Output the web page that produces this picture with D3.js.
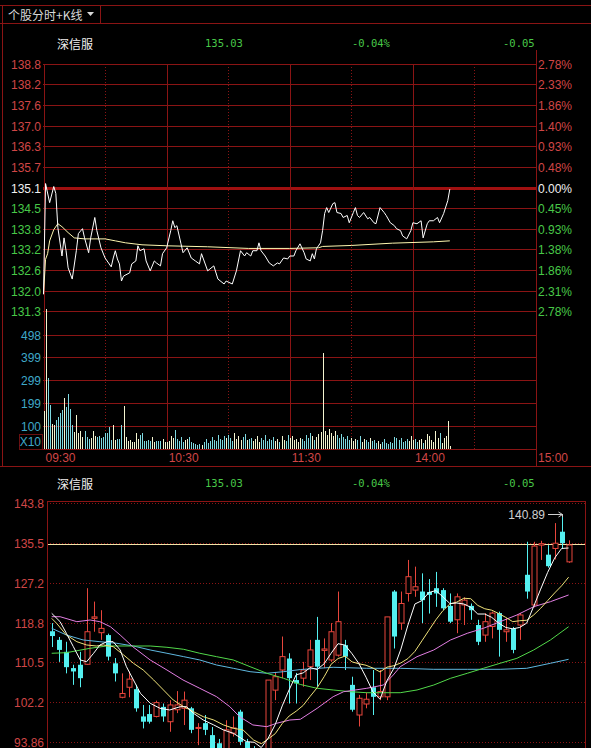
<!DOCTYPE html>
<html><head><meta charset="utf-8">
<script src="https://cdn.jsdelivr.net/npm/d3@7"></script>
<style>
html,body{margin:0;padding:0;background:#000;}
svg{display:block;}
</style></head><body>
<svg id="c" width="591" height="748"></svg>
<script>
// ---------------- DATA ----------------
const titleText = "个股分时+K线";
const stockName = "深信服";
const lastPrice = "135.03", changePct = "-0.04%", changeAmt = "-0.05";
const prevClose = 135.08;

const priceTickValues = [138.83,138.21,137.58,136.96,136.33,135.71,135.08,134.45,133.83,133.20,132.58,131.95,131.33];
const priceTickLabels = ["138.8","138.2","137.6","137.0","136.3","135.7","135.1","134.5","133.8","133.2","132.6","132.0","131.3"];
const pctTickLabels = ["2.78%","2.33%","1.86%","1.40%","0.93%","0.48%","0.00%","0.45%","0.93%","1.38%","1.86%","2.31%","2.78%"];
const volTickValues = [100,199,299,399,498];
const volTickLabels = ["100","199","299","399","498"];
const timeLabels = ["09:30","10:30","11:30","14:00","15:00"];
const timeLabelMinutes = [0,60,120,180,240];
const solidGridMinutes = [0,60,120,180,240];
const dottedGridMinutes = [30,90,150,210];

// intraday price [minute, price]
const pricePoints = [[0,131.84],[1,135.20],[3,134.62],[5,135.11],[6,134.90],[7,133.86],[9,133.00],[10,133.55],[11,133.16],[12,132.64],[14,132.30],[16,133.16],[17,133.68],[19,133.83],[20,133.55],[22,133.10],[23,133.55],[25,134.17],[26,133.77],[28,133.25],[30,132.94],[33,132.67],[34,132.94],[35,133.16],[36,132.91],[37,132.76],[38,132.24],[39,132.39],[42,132.49],[43,132.76],[45,132.85],[46,133.31],[47,133.16],[49,133.22],[50,132.85],[52,132.55],[54,132.85],[55,132.79],[57,132.70],[58,133.07],[60,133.25],[62,133.77],[63,134.07],[64,133.86],[65,133.92],[67,133.37],[68,133.10],[70,133.25],[72,132.94],[74,132.85],[76,132.76],[77,133.07],[80,132.55],[83,132.70],[85,132.30],[88,132.15],[89,132.24],[92,132.15],[94,132.55],[96,133.16],[98,133.00],[99,133.10],[101,133.00],[102,133.16],[104,133.16],[105,133.40],[106,133.16],[108,133.00],[110,132.79],[112,132.70],[114,132.79],[115,132.76],[117,132.94],[119,132.91],[120,133.00],[122,133.00],[123,133.16],[125,133.37],[127,133.10],[128,132.91],[130,132.85],[131,133.07],[132,132.91],[133,133.22],[135,133.40],[136,133.77],[137,134.29],[138,134.47],[139,134.32],[141,134.59],[142,134.62],[143,134.32],[145,134.29],[146,134.17],[148,134.23],[149,134.01],[151,134.32],[152,134.47],[153,134.23],[154,134.17],[156,134.32],[158,134.13],[159,134.17],[161,134.01],[162,133.98],[164,134.47],[166,134.32],[167,134.23],[169,134.01],[171,133.92],[172,133.83],[174,133.77],[175,133.61],[177,133.52],[179,133.77],[180,134.01],[182,133.98],[184,134.07],[185,133.55],[187,133.98],[188,134.07],[190,134.07],[192,134.17],[193,134.01],[195,134.29],[197,134.68],[198,135.03]];
// average price [minute, price]
const avgPoints = [[0,131.84],[1,132.90],[2,133.07],[3,133.46],[5,133.80],[7,133.98],[9,133.89],[12,133.71],[15,133.55],[20,133.52],[30,133.52],[35,133.46],[40,133.40],[48,133.34],[60,133.31],[80,133.28],[100,133.23],[120,133.23],[134,133.25],[136,133.29],[150,133.32],[170,133.39],[190,133.43],[198,133.46]];
// volume per minute (x10)
const volumes = [167,610,309,192,109,103,126,138,158,170,221,182,240,173,105,74,147,71,77,54,78,54,45,47,78,57,51,57,47,51,68,71,95,39,103,39,42,42,103,187,54,36,39,32,32,68,42,60,68,36,36,39,36,51,32,36,34,34,42,29,32,36,58,46,83,42,36,51,30,39,42,51,29,26,23,19,23,17,
30,45,28,36,52,40,33,60,42,38,55,47,62,48,35,70,44,58,40,52,66,38,45,50,36,42,55,30,48,38,60,33,45,40,52,36,44,30,58,40,35,62,48,55,38,45,30,50,42,36,60,48,70,55,40,52,65,75,420,80,62,85,70,55,78,60,48,66,52,45,58,40,50,36,45,40,55,32,42,38,30,46,35,40,28,34,22,30,42,26,20,32,25,54,50,38,48,30,36,42,35,57,40,45,30,38,45,28,40,65,55,38,30,80,48,68,26,50,58,122,15];
// bar direction (u = up, d = down)
const volDir = ["uu","dd","uu","ddddudddd","uuuuu","ddd","uuu","dddddddd","uu","ddd","uuuuuuuu","dddddd","uu","ddd","uuuuuu","ddddd","uu","dddddd","u","ddddddddddd","u","ddd","uuuu","dd","u","dd","uuuu","ddddddd","uu","d","uu","dd","uuuuuu","ddddd","u","d","uuuuuuuuuu","ddddddd","uuu","dd","uu","dd","u","ddd","uu","ddddddddddddd","uuu","dd","uu","d","uuuuuuu","d","uuuuu"].join("");

// K line (daily)
const kTickValues = [143.8,135.48,127.15,118.83,110.51,102.18,93.86];
const kTickLabels = ["143.8","135.5","127.2","118.8","110.5","102.2","93.86"];
const kOpen = [117.0,115.2,112.7,109.3,110.0,110.1,119.7,116.7,116.2,110.3,103.2,105.3,104.9,99.2,99.7,99.2,101.2,98.1,100.6,100.9,100.9,96.8,97.8,95.3,93.6,91.5,95.7,100.2,93.9,92.0,89.5,91.0,104.7,108.9,111.3,106.8,107.2,109.6,115.2,113.0,111.0,112.0,114.1,105.8,99.5,101.8,105.3,103.3,103.3,125.3,118.7,124.9,125.6,125.3,125.2,126.0,125.6,122.3,119.4,122.5,122.3,118.3,116.2,118.0,120.8,116.9,117.6,118.3,128.8,122.5,135.0,133.0,134.3,137.8,131.5];
const kHigh = [118.7,115.8,114.8,110.0,112.7,126.0,123.2,121.4,116.5,111.4,108.2,108.6,105.8,101.6,101.6,102.5,101.9,102.6,104.5,104.4,101.2,97.8,99.5,97.0,94.5,98.4,99.2,100.6,94.5,93.0,92.0,106.8,108.5,115.9,112.4,108.3,110.6,115.2,120.0,115.5,118.7,125.3,115.2,107.5,103.7,104.2,108.9,108.9,120.0,125.6,125.3,131.9,130.5,129.1,127.9,129.4,126.0,124.9,124.9,124.1,122.8,119.4,120.8,121.1,121.1,119.7,117.9,120.8,135.7,135.7,135.9,135.0,139.6,140.89,136.0];
const kLow = [113.7,110.6,108.2,105.8,105.3,110.0,116.9,115.2,110.9,106.5,103.0,103.2,100.2,96.7,97.7,99.0,98.1,96.0,99.9,97.4,95.7,93.2,95.3,90.5,89.5,90.8,95.0,93.2,91.0,89.0,88.0,90.5,102.6,107.2,101.9,101.9,105.4,106.8,105.4,109.3,110.6,111.7,108.9,100.2,97.1,100.9,99.5,102.6,102.6,113.4,117.3,123.2,124.2,118.7,120.7,122.1,121.4,118.7,116.6,118.3,119.4,114.1,114.8,115.5,111.7,114.8,112.4,115.2,123.8,122.0,131.9,130.3,132.0,134.3,131.3];
const kClose = [116.0,113.1,109.5,108.6,107.2,116.9,120.0,117.6,111.7,108.2,104.0,107.0,100.9,98.1,98.1,102.1,99.2,101.6,101.6,102.6,96.4,96.9,96.4,91.5,90.5,96.4,96.8,93.9,92.0,90.0,91.0,106.8,107.5,111.7,107.2,106.1,108.9,113.1,109.6,113.3,116.9,119.0,111.7,100.6,103.0,102.8,103.3,104.4,120.0,115.9,122.8,128.4,126.3,123.5,124.6,124.9,121.8,119.0,124.2,123.5,121.4,114.8,119.0,120.8,117.3,117.3,113.1,120.4,125.3,134.8,135.3,130.6,135.4,135.4,135.03];
const highMarkLabel = "140.89";
const highMarkIndex = 73;

// moving averages [index, value]
const maWhite = [[0,120.75],[1.2,119.0],[2.1,116.58],[3.1,113.78],[4.1,111.0],[5,110.64],[6,112.4],[6.9,114.13],[7.9,114.82],[8.8,114.82],[9.8,113.09],[10.7,109.6],[11.7,106.82],[12.7,104.04],[14.1,101.95],[15.5,100.9],[16.9,100.55],[18.4,101.24],[19.3,101.24],[20.3,99.86],[21.7,98.46],[23.2,97.42],[24.6,96.37],[26,95.68],[27.9,93.93],[29,93.8],[30,92.7],[31,94.7],[32,97.5],[33,101.4],[34,104.8],[35,107.9],[36,108.3],[37,109.4],[38,109.0],[39,110.2],[40,112.4],[41,114.4],[42,114.1],[43,112.3],[44,110.2],[45,107.4],[46,104.3],[47,102.8],[48,106.7],[49,109.3],[50,113.3],[51,118.3],[52,122.7],[53,123.4],[54,125.1],[55,125.5],[56,124.2],[57,122.8],[58,122.9],[59,122.7],[60,122.0],[61,120.6],[62,120.6],[63,119.9],[64,118.7],[65,117.8],[66,117.5],[67,117.8],[68,118.7],[69,122.2],[70,125.8],[71,129.3],[72,132.3],[73,134.3],[74,134.4]];
const maYellow = [[0,119.7],[0.7,118.66],[2.1,116.22],[3.6,114.82],[5,114.13],[6.4,113.92],[7.4,114.13],[8.8,113.78],[10.3,112.04],[11.7,110.31],[13.1,108.91],[14.6,106.82],[16,104.73],[17.4,102.64],[18.9,101.24],[20.3,100.19],[21.7,99.15],[23.2,98.46],[24.6,97.42],[26,96.73],[27.4,96.37],[28.9,94.28],[30,93.5],[31,94.5],[32,95.6],[33,97.7],[34,99.3],[35,100.3],[36,101.5],[37,103.4],[38,105.2],[39,107.5],[40,110.1],[41,111.3],[42,111.8],[43,110.6],[44,110.2],[45,109.9],[46,109.3],[47,108.5],[48,109.5],[49,109.8],[50,110.4],[51,111.3],[52,112.8],[53,115.0],[54,117.2],[55,119.4],[56,121.3],[57,122.7],[58,123.1],[59,123.9],[60,123.8],[61,122.4],[62,121.7],[63,121.4],[64,120.7],[65,119.9],[66,119.0],[67,119.2],[68,119.3],[69,120.4],[70,121.8],[71,123.4],[72,125.0],[73,126.5],[74,128.3]];
const maPink = [[0,120.04],[1.2,120.04],[3.6,119.0],[5.5,119.35],[6.9,119.0],[8.4,117.95],[9.8,116.22],[11.6,113.78],[14.1,111.0],[16.5,108.9],[18.8,106.82],[21.2,105.08],[23.6,103.33],[25.5,101.24],[26.9,99.15],[28.8,97.42],[30.8,97.06],[32.2,97.77],[34.1,98.46],[35.6,98.61],[38,100.9],[40.3,103.33],[41.8,104.37],[45.1,105.08],[47.5,105.77],[48.9,107.86],[49.9,109.6],[52.3,111.69],[54.7,113.09],[57.1,115.18],[59.5,116.58],[61.8,117.62],[64.2,119.0],[66.6,120.4],[69,122.13],[71.4,123.18],[74,124.58]];
const maGreen = [[0,112.4],[2.1,112.52],[5.5,113.44],[7.9,113.92],[11.7,113.92],[14.1,113.92],[16.5,113.65],[18.9,113.23],[21.2,112.4],[23.6,111.69],[26,111.0],[28.4,109.6],[30.8,108.22],[33.2,107.17],[35.6,105.88],[38,105.08],[40.3,104.73],[42.7,104.37],[45.1,104.16],[47.5,104.16],[49.9,104.16],[52.3,104.73],[54.7,105.77],[57.1,107.17],[59.5,108.22],[61.8,109.26],[64.2,110.31],[66.6,111.35],[69,113.09],[71.4,115.18],[74,117.95]];
const maBlue = [[0,117.62],[2.1,116.22],[4.5,115.18],[6.9,114.82],[9.3,114.49],[11.7,113.92],[14.1,113.09],[16.5,112.4],[18.9,111.69],[21.2,111.0],[23.6,109.95],[26,109.26],[28.4,108.55],[30.8,108.22],[33.2,108.55],[35.6,109.0],[40.3,109.47],[45.1,109.26],[49.9,109.26],[54.7,109.05],[59.5,109.05],[64.2,109.05],[68,109.26],[71.4,110.31],[74,111.14]];

// ---------------- DRAW ----------------
const RED_GRID = "#8a1414", RED_TXT = "#d04646", GRN_TXT = "#48c848", CYAN_TXT = "#3fa8c8";
const SANS = "'Liberation Sans', Arial, sans-serif";
const CJK = "'Noto Sans CJK SC', sans-serif";
const MONO = "'DejaVu Sans Mono', monospace";
const svg = d3.select("#c");
svg.append("rect").attr("width",591).attr("height",748).attr("fill","#000");

function hline(g,x1,x2,y,color,w,dash){ const l=g.append("line").attr("x1",x1).attr("x2",x2).attr("y1",y).attr("y2",y).attr("stroke",color).attr("stroke-width",w||1).attr("shape-rendering","crispEdges"); if(dash) l.attr("stroke-dasharray",dash); return l;}
function vline(g,x,y1,y2,color,w,dash){ const l=g.append("line").attr("x1",x).attr("x2",x).attr("y1",y1).attr("y2",y2).attr("stroke",color).attr("stroke-width",w||1).attr("shape-rendering","crispEdges"); if(dash) l.attr("stroke-dasharray",dash); return l;}
function txt(g,x,y,s,color,size,font,anchor){ return g.append("text").attr("x",x).attr("y",y).attr("fill",color).attr("font-size",size).attr("font-family",font).attr("text-anchor",anchor||"start").attr("dominant-baseline","central").text(s);}

// frame / title bar
const frame = svg.append("g");
hline(frame,0,591,5.5,RED_GRID);
hline(frame,0,591,23.5,RED_GRID);
vline(frame,2.5,5,466,RED_GRID);
vline(frame,100.5,5,23,RED_GRID);
txt(frame,8,14.5,titleText,"#d8d8d8",12,CJK);
frame.append("path").attr("d","M87,12 L94,12 L90.5,16 Z").attr("fill","#d8d8d8");

function header(y){
  txt(frame,57,y,stockName,"#f0f0f0",12,CJK);
  txt(frame,205,y,lastPrice,GRN_TXT,10.5,MONO);
  txt(frame,352,y,changePct,GRN_TXT,10.5,MONO);
  txt(frame,503,y,changeAmt,GRN_TXT,10.5,MONO);
}
header(43);

// ---- intraday chart ----
const tScale = d3.scaleLinear().domain([0,240]).range([43.5,536]);
const pScale = d3.scaleLinear().domain([131.33,138.83]).range([311,64]);
const vScale = d3.scaleLinear().domain([0,498]).range([449,334.7]);
const topG = svg.append("g");

priceTickValues.forEach((v,i)=>{
  const y = Math.round(pScale(v))+0.5;
  const mid = (i===6);
  hline(topG,43,536,y, mid?"#a01010":RED_GRID, mid?3:1);
  const col = i<6?RED_TXT:(mid?"#f0f0f0":GRN_TXT);
  txt(topG,41,y,priceTickLabels[i],col,12,SANS,"end");
  txt(topG,538,y,pctTickLabels[i],col,12,SANS,"start");
});
volTickValues.forEach((v,i)=>{
  const y = Math.round(vScale(v))+0.5;
  hline(topG,43,536,y,RED_GRID);
  txt(topG,41,y,volTickLabels[i],CYAN_TXT,12,SANS,"end");
});
topG.append("rect").attr("x",19.5).attr("y",434.5).attr("width",23).attr("height",15).attr("fill","none").attr("stroke","#6a1010");
txt(topG,41,442,"X10",CYAN_TXT,12,SANS,"end");
hline(topG,43,536,449.5,RED_GRID);
solidGridMinutes.forEach(m=>{ const x=Math.round(tScale(m))+0.5; vline(topG,x,64,449,RED_GRID);});
vline(topG,536.5,50,466,RED_GRID);
dottedGridMinutes.forEach(m=>{ const x=Math.round(tScale(m))+0.5; vline(topG,x,64,449,"#8a1414",1,"1,2");});
timeLabels.forEach((s,i)=>{ txt(topG,tScale(timeLabelMinutes[i])+2,458,s,RED_TXT,12,SANS); });

// volume bars
volumes.forEach((v,m)=>{
  const x = Math.round(tScale(m))+0.5;
  const up = volDir[m] !== "d";
  vline(topG,x,vScale(0),vScale(v), up?"#f4f4d0":"#7ed8e0",1);
});
// avg and price lines
const tLine = d3.line().x(d=>tScale(d[0])).y(d=>pScale(d[1]));
topG.append("path").attr("d",tLine(avgPoints)).attr("fill","none").attr("stroke","#fff8b0").attr("stroke-width",1);
topG.append("path").attr("d",tLine(pricePoints)).attr("fill","none").attr("stroke","#ffffff").attr("stroke-width",1);

// ---- K line chart ----
hline(frame,0,591,466.5,RED_GRID);
header(483);
const kx = d3.scaleLinear().domain([0,74]).range([51.7,568.6]);
const ky = d3.scaleLinear().domain([93.86,143.8]).range([742,503]);
const bot = svg.append("g");
svg.append("clipPath").attr("id","kclip").append("rect").attr("x",48).attr("y",502).attr("width",537).attr("height",246);
kTickValues.forEach((v,i)=>{
  const y = Math.round(ky(v))+0.5;
  hline(bot,47,585,y,"#8a1414",1,"1,2");
  txt(bot,44,y,kTickLabels[i],RED_TXT,12,SANS,"end");
});
hline(bot,47,585,501.5,RED_GRID);
vline(bot,47.5,501,748,RED_GRID);
vline(bot,585.5,501,748,RED_GRID);
const plot = bot.append("g").attr("clip-path","url(#kclip)");
hline(plot,47,585,ky(prevClose),"#f2e4a8",1.2);

const UP="#e8463c", DN="#54f0f0";
kOpen.forEach((o,i)=>{
  const c=kClose[i], h=kHigh[i], l=kLow[i];
  const up = c>=o;
  const col = up?UP:DN;
  const cx = Math.round(kx(i));
  plot.append("line").attr("x1",cx+0.5).attr("x2",cx+0.5).attr("y1",ky(h)).attr("y2",ky(l)).attr("stroke",col).attr("stroke-width",1);
  const yTop = ky(Math.max(o,c)), yBot = ky(Math.min(o,c));
  const hgt = Math.max(1,yBot-yTop);
  if(up){
    plot.append("rect").attr("x",cx-2).attr("y",yTop).attr("width",5).attr("height",hgt).attr("fill","#000").attr("stroke",col).attr("stroke-width",1);
  } else {
    plot.append("rect").attr("x",cx-2).attr("y",yTop).attr("width",5).attr("height",hgt).attr("fill",col);
  }
});
const kLine = d3.line().x(d=>kx(d[0])).y(d=>ky(d[1]));
[[maBlue,"#5fb8e0"],[maGreen,"#52d84a"],[maPink,"#e27ee2"],[maYellow,"#efe27a"],[maWhite,"#ffffff"]].forEach(([data,col])=>{
  plot.append("path").attr("d",kLine(data)).attr("fill","none").attr("stroke",col).attr("stroke-width",1);
});
// high annotation
const hx = Math.round(kx(highMarkIndex))+0.5, hy = Math.round(ky(kHigh[highMarkIndex]))-2.5;
txt(bot,545,hy,highMarkLabel,"#d0d0d0",12,SANS,"end");
hline(bot,548,hx,hy,"#d0d0d0",1);
bot.append("path").attr("d",`M${hx-4},${hy-2.5} L${hx},${hy} L${hx-4},${hy+2.5}`).attr("fill","none").attr("stroke","#d0d0d0");
vline(bot,hx,hy,ky(kHigh[highMarkIndex]),"#d0d0d0",1);
</script>
</body></html>
